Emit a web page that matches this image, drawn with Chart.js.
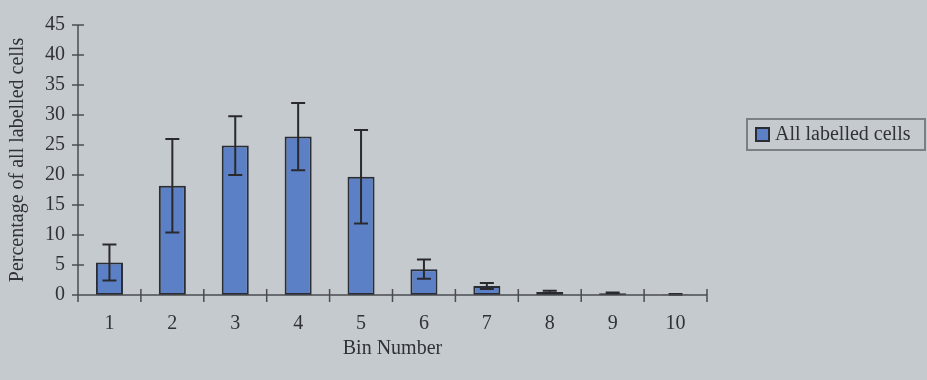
<!DOCTYPE html>
<html>
<head>
<meta charset="utf-8">
<script src="https://cdn.jsdelivr.net/npm/chart.js@4/dist/chart.umd.min.js"></script>
<style>
  html, body { margin: 0; padding: 0; background: #c5cace; }
  #wrap { width: 927px; height: 380px; }
</style>
</head>
<body>
<div id="wrap"><canvas id="c" width="927" height="380"></canvas></div>
<script>
// Distribution of labelled cells across bins (mean % with error)
const binLabels = ['1', '2', '3', '4', '5', '6', '7', '8', '9', '10'];
const meanPercent = [5.4, 18.2, 24.9, 26.4, 19.7, 4.3, 1.5, 0.5, 0.3, 0.1];
const errorPercent = [3.0, 7.8, 4.9, 5.6, 7.8, 1.6, 0.5, 0.2, 0.1, 0.05];
const seriesName = 'All labelled cells';

const BG = '#c5cace';
const BAR_FILL = '#5b80c6';
const BAR_EDGE = '#2a2c36';
const AXIS = '#4a4c50';
const TEXT = '#303236';
const FONT = '"Liberation Serif", "Times New Roman", serif';

// Canvas background
const backgroundPlugin = {
  id: 'bg',
  beforeDraw(chart) {
    const ctx = chart.ctx;
    ctx.save();
    ctx.fillStyle = BG;
    ctx.fillRect(0, 0, chart.width, chart.height);
    ctx.restore();
  }
};

// Axis lines with tick marks crossing the axis
const axesPlugin = {
  id: 'axesCross',
  afterDraw(chart) {
    const ctx = chart.ctx;
    const x = chart.scales.x, y = chart.scales.y;
    const left = x.left, right = x.right, base = y.getPixelForValue(0);
    ctx.save();
    ctx.strokeStyle = AXIS;
    ctx.lineWidth = 1.5;
    ctx.beginPath();
    ctx.moveTo(left, y.getPixelForValue(45));
    ctx.lineTo(left, base + 7);
    ctx.moveTo(left, base);
    ctx.lineTo(right, base);
    y.ticks.forEach(t => {
      const py = y.getPixelForValue(t.value);
      ctx.moveTo(left - 6, py);
      ctx.lineTo(left + 6, py);
    });
    const n = binLabels.length;
    for (let i = 1; i <= n; i++) {
      const px = left + i * (right - left) / n;
      ctx.moveTo(px, base - 6);
      ctx.lineTo(px, base + 7);
    }
    ctx.stroke();
    ctx.restore();
  }
};

// Error bars drawn from the data through the y scale
const errorBarPlugin = {
  id: 'errorBars',
  afterDatasetsDraw(chart) {
    const ctx = chart.ctx;
    const y = chart.scales.y;
    const meta = chart.getDatasetMeta(0);
    ctx.save();
    ctx.strokeStyle = '#2a2a2e';
    ctx.lineWidth = 2;
    meta.data.forEach((bar, i) => {
      const v = meanPercent[i], e = errorPercent[i];
      const top = y.getPixelForValue(v + e);
      const bot = y.getPixelForValue(Math.max(0, v - e));
      const cx = bar.x, cap = 7;
      ctx.beginPath();
      ctx.moveTo(cx, top); ctx.lineTo(cx, bot);
      ctx.moveTo(cx - cap, top); ctx.lineTo(cx + cap, top);
      ctx.moveTo(cx - cap, bot); ctx.lineTo(cx + cap, bot);
      ctx.stroke();
    });
    ctx.restore();
  }
};

// Boxed legend on the right
const legendPlugin = {
  id: 'boxLegend',
  afterDraw(chart) {
    const ctx = chart.ctx;
    const label = chart.data.datasets[0].label;
    ctx.save();
    ctx.strokeStyle = '#7c8084';
    ctx.lineWidth = 2;
    ctx.strokeRect(747, 119, 178, 31);
    ctx.fillStyle = BAR_FILL;
    ctx.fillRect(756, 128, 13, 13);
    ctx.strokeStyle = BAR_EDGE;
    ctx.lineWidth = 2;
    ctx.strokeRect(756, 128, 13, 13);
    ctx.fillStyle = TEXT;
    ctx.font = '20px ' + FONT;
    ctx.textBaseline = 'middle';
    ctx.textAlign = 'left';
    ctx.fillText(label, 775, 135);
    ctx.restore();
  }
};

new Chart(document.getElementById('c'), {
  type: 'bar',
  data: {
    labels: binLabels,
    datasets: [{
      label: seriesName,
      data: meanPercent,
      backgroundColor: BAR_FILL,
      borderColor: BAR_EDGE,
      borderWidth: 2,
      borderSkipped: false,
      categoryPercentage: 1.0,
      barPercentage: 0.43
    }]
  },
  plugins: [backgroundPlugin, errorBarPlugin, axesPlugin, legendPlugin],
  options: {
    responsive: false,
    animation: false,
    devicePixelRatio: 1,
    layout: { padding: { left: 0, right: 220, top: 18, bottom: 0 } },
    plugins: {
      legend: { display: false },
      tooltip: { enabled: false }
    },
    scales: {
      x: {
        offset: true,
        grid: { display: false, drawTicks: false },
        border: { display: false },
        ticks: { color: TEXT, font: { family: FONT, size: 20 }, padding: 17, maxRotation: 0 },
        title: {
          display: true, text: 'Bin Number', color: TEXT,
          font: { family: FONT, size: 20 }, padding: { top: 4, bottom: 19 }
        },
        afterFit(s) { s.height = 85; }
      },
      y: {
        min: 0, max: 45,
        grid: { display: false, drawTicks: false },
        border: { display: false },
        ticks: { stepSize: 5, color: TEXT, font: { family: FONT, size: 20 }, padding: 13 },
        title: {
          display: true, text: 'Percentage of all labelled cells', color: TEXT,
          font: { family: FONT, size: 20 }, padding: { top: 6, bottom: 0 }
        },
        afterFit(s) { s.width = 78; }
      }
    }
  }
});
</script>
</body>
</html>
